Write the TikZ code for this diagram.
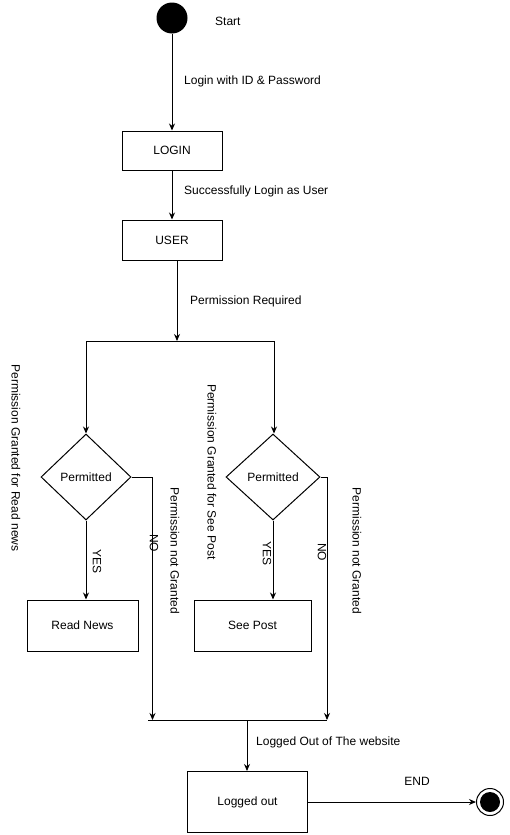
\documentclass[tikz,border=0pt]{standalone}
\usepackage{fontspec}
\setmainfont{Liberation Sans}
\usetikzlibrary{arrows.meta,shapes.geometric}
\begin{document}
\begin{tikzpicture}[x=1pt,y=-1pt,
  every node/.style={font=\fontsize{12}{14}\selectfont, inner sep=0pt},
  box/.style={draw, line width=1pt, minimum width=#1, minimum height=40pt},
  decision/.style={draw, diamond, line width=1pt, minimum width=92pt, minimum height=86pt},
  wire/.style={line width=1pt},
  arr/.style={line width=1pt, -{Stealth[length=7pt,width=6pt]}},
  vlabel/.style={rotate=-90}
]
\useasboundingbox (0,0) rectangle (510,835);

% initial state
\node[circle, fill=black, minimum size=31pt] (start) at (172,18) {};
\node[anchor=west] (startlbl) at (215,21) {Start};

% login and user
\node[box=100pt, minimum height=39pt] (login) at (172,150.5) {LOGIN};
\node[box=100pt] (user) at (172,240) {USER};

\draw[arr] (start) -- (login) node[pos=0.5] (t1) {};
\node[anchor=west] (lbl1) at (184,81) {Login with ID \& Password};
\draw[arr] (login) -- (user);
\node[anchor=west] (lbl2) at (184,191) {Successfully Login as User};

% split bar
\coordinate (splitL) at (86,341);
\coordinate (splitM) at (177,341);
\coordinate (splitR) at (274,341);
\draw[arr] (user.south -| splitM) -- (splitM);
\node[anchor=west] (lbl3) at (190,301) {Permission Required};
\draw[wire] (splitL) -- (splitR);

% decisions
\node[decision, minimum width=90pt] (dec1) at (86,477) {Permitted};
\node[decision, minimum width=94pt] (dec2) at (273,477) {Permitted};
\draw[arr] (splitL) -- (dec1.north);
\draw[arr] (splitR) -- (splitR |- dec2.north);

% actions
\node[box=111pt, minimum height=51pt] (news) at (82.5,625.5) {Read News};
\node[box=117pt, minimum height=51pt] (post) at (252.5,625.5) {See Post};
\draw[arr] (dec1.south) -- (news.north -| dec1.south);
\draw[arr] (dec2.south) -- (post.north -| dec2.south);

% join bar
\coordinate (joinL) at (148,720);
\coordinate (noL) at (152.5,720);
\coordinate (noR) at (327,720);
\coordinate (joinM) at (247,720);
\draw[arr] (dec1.east) -| (noL);
\draw[arr] (dec2.east) -| (noR);
\draw[wire] (joinL) -- (noR);

% logout and final state
\node[box=120pt, minimum height=61pt] (logout) at (247.5,802) {Logged out};
\draw[arr] (joinM) -- (logout.north -| joinM);
\node[anchor=west] (lbl4) at (256,742) {Logged Out of The website};

\node[circle, draw, line width=1pt, minimum size=27pt] (final) at (490,802) {};
\node[circle, fill=black, minimum size=20pt] (finaldot) at (final.center) {};
\draw[arr] (logout.east) -- (final.west);
\node (endlbl) at (417,781) {END};

% rotated labels
\node[vlabel] (g1) at (16,458) {Permission Granted for Read news};
\node[vlabel] (g2) at (212,472) {Permission Granted for See Post};
\node[vlabel] (n1) at (175,551) {Permission not Granted};
\node[vlabel] (n2) at (357,551) {Permission not Granted};
\node[vlabel] (no1) at (154,543) {NO};
\node[vlabel] (no2) at (322,552) {NO};
\node[vlabel] (yes1) at (97,561) {YES};
\node[vlabel] (yes2) at (267,553) {YES};
\end{tikzpicture}
\end{document}
